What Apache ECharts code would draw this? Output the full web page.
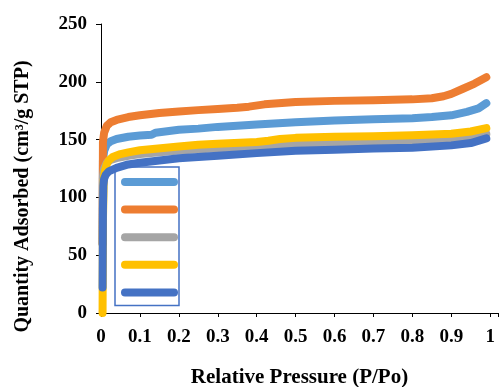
<!DOCTYPE html>
<html>
<head>
<meta charset="utf-8">
<script src="https://cdn.jsdelivr.net/npm/echarts@6/dist/echarts.min.js"></script>
<style>
    html, body { margin: 0; padding: 0; background: #fff; }
    #chart { width: 499px; height: 387px; }
</style>
</head>
<body>
<div id="chart"></div>
<script>
// relative pressure (P/Po) and quantity adsorbed for each sample
const lightBlueP = [0.004, 0.005, 0.008, 0.015, 0.025, 0.04, 0.07, 0.1, 0.13, 0.14, 0.2, 0.25, 0.3, 0.4, 0.5, 0.6, 0.7, 0.8, 0.85, 0.9, 0.94, 0.97, 0.99];
const lightBlueV = [60, 132, 140, 146, 148.5, 150.5, 152.5, 153.5, 154.2, 156, 158.5, 159.5, 161, 163, 165, 166.5, 167.5, 168.5, 169.5, 171, 174, 177, 181.5];

const orangeP = [0.004, 0.005, 0.008, 0.015, 0.025, 0.04, 0.07, 0.1, 0.15, 0.2, 0.25, 0.3, 0.35, 0.38, 0.42, 0.5, 0.6, 0.7, 0.8, 0.85, 0.88, 0.9, 0.93, 0.96, 0.99];
const orangeV = [60, 148, 156, 162, 165, 167, 169.5, 171, 173, 174.3, 175.5, 176.5, 177.5, 178.5, 180.5, 182.5, 183.5, 184, 184.8, 185.8, 187.5, 189.5, 194, 198.5, 204];

const grayP = [0.004, 0.005, 0.008, 0.015, 0.025, 0.04, 0.07, 0.1, 0.2, 0.3, 0.4, 0.5, 0.6, 0.7, 0.8, 0.9, 0.95, 0.99];
const grayV = [60, 118, 125, 130, 132.5, 134, 136, 137.5, 140.5, 142.5, 144, 145.5, 146.5, 147.5, 148.5, 150, 152, 155];

const yellowP = [0.004, 0.005, 0.007, 0.01, 0.015, 0.02, 0.03, 0.05, 0.07, 0.1, 0.2, 0.25, 0.3, 0.4, 0.43, 0.46, 0.5, 0.6, 0.7, 0.8, 0.9, 0.95, 0.99];
const yellowV = [0, 80, 115, 123, 129, 132, 135, 137.5, 139, 140.8, 144, 145.5, 146.5, 148, 149, 150.5, 151.5, 152.5, 153, 153.8, 155, 157, 160];

const darkBlueP = [0.004, 0.005, 0.006, 0.008, 0.012, 0.02, 0.04, 0.07, 0.1, 0.2, 0.3, 0.4, 0.5, 0.6, 0.7, 0.8, 0.9, 0.95, 0.99];
const darkBlueV = [22, 90, 110, 116, 119.5, 122.5, 125.5, 128.5, 130, 133.8, 136, 138.3, 140.3, 141.3, 142.2, 143, 145, 147, 151];

const seriesNames = ['s1', 's2', 's3', 's4', 's5'];
const seriesColors = ['#5B9BD5', '#ED7D31', '#A5A5A5', '#FFC000', '#4472C4'];
const seriesP = [lightBlueP, orangeP, grayP, yellowP, darkBlueP];
const seriesV = [lightBlueV, orangeV, grayV, yellowV, darkBlueV];

const font = 'Liberation Serif, Times New Roman, serif';

function pairUp(xs, ys) {
    return xs.map((x, i) => [x, ys[i]]);
}

const chart = echarts.init(document.getElementById('chart'));
chart.setOption({
    animation: false,
    grid: { left: 101, right: 1, top: 24, bottom: 74, outerBoundsMode: 'none' },
    legend: {
        orient: 'vertical',
        left: 115,
        top: 167,
        align: 'right',
        selectedMode: false,
        data: seriesNames,
        icon: 'path://M4,0L53,0A4,4,0,0,1,53,8L4,8A4,4,0,0,1,4,0Z',
        itemWidth: 57,
        itemHeight: 8,
        itemGap: 19.6,
        padding: [11, 1, 9, 1],
        borderColor: '#4472C4',
        borderWidth: 1.5,
        formatter: () => '',
        textStyle: { fontSize: 6, lineHeight: 6 }
    },
    xAxis: {
        type: 'value',
        min: 0,
        max: 1.02,
        interval: 0.1,
        name: 'Relative Pressure (P/Po)',
        nameLocation: 'middle',
        nameGap: 54,
        nameTextStyle: { fontFamily: font, fontWeight: 'bold', fontSize: 21, color: '#000' },
        axisLine: { lineStyle: { color: '#000', width: 1 } },
        axisTick: { inside: false, length: 4, lineStyle: { color: '#000' } },
        splitLine: { show: false },
        axisLabel: {
            margin: 15,
            fontFamily: font,
            fontWeight: 'bold',
            fontSize: 19,
            color: '#000',
            formatter: function (v) {
                if (Math.abs(v * 10 - Math.round(v * 10)) > 1e-6) return '';
                return String(Math.round(v * 10) / 10);
            }
        }
    },
    yAxis: {
        type: 'value',
        min: 0,
        max: 250,
        interval: 50,
        name: 'Quantity Adsorbed (cm³/g STP)',
        nameLocation: 'middle',
        nameGap: 68,
        nameTextStyle: { fontFamily: font, fontWeight: 'bold', fontSize: 20, color: '#000', padding: [0, 56, 0, 0] },
        axisLine: { show: true, lineStyle: { color: '#000', width: 1 } },
        axisTick: { show: true, inside: false, length: 5, lineStyle: { color: '#000' } },
        splitLine: { show: false },
        axisLabel: { margin: 14, fontFamily: font, fontWeight: 'bold', fontSize: 19, color: '#000' }
    },
    series: seriesNames.map((name, i) => ({
        name: name,
        type: 'line',
        showSymbol: false,
        symbol: 'none',
        color: seriesColors[i],
        lineStyle: { width: 8, color: seriesColors[i], cap: 'round', join: 'round' },
        data: pairUp(seriesP[i], seriesV[i])
    }))
});
</script>
</body>
</html>
